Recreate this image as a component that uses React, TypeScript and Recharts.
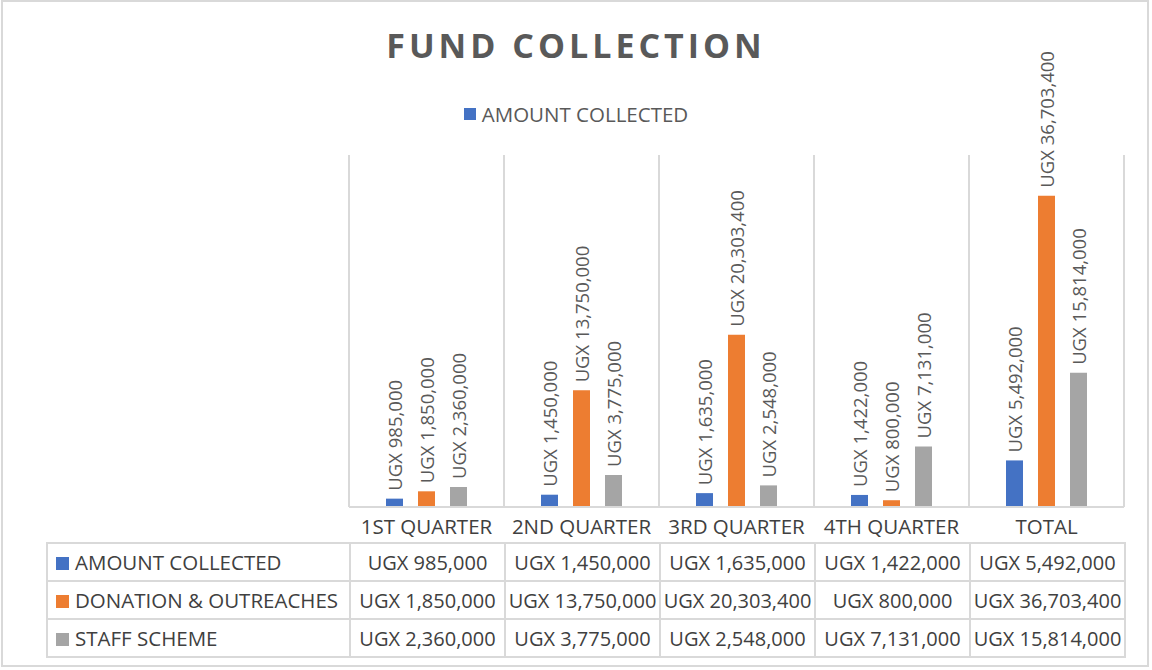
import React from "react";
import { BarChart, Bar, XAxis, YAxis, CartesianGrid, LabelList } from "recharts";

const categories = ["1ST QUARTER", "2ND QUARTER", "3RD QUARTER", "4TH QUARTER", "TOTAL"];
const amountCollected = [985000, 1450000, 1635000, 1422000, 5492000];
const donationOutreaches = [1850000, 13750000, 20303400, 800000, 36703400];
const staffScheme = [2360000, 3775000, 2548000, 7131000, 15814000];

const seriesInfo = [
  { key: "amount", name: "AMOUNT COLLECTED", color: "#4472C4", values: amountCollected },
  { key: "donation", name: "DONATION & OUTREACHES", color: "#ED7D31", values: donationOutreaches },
  { key: "staff", name: "STAFF SCHEME", color: "#A5A5A5", values: staffScheme },
];

const data = categories.map((c, i) => ({
  category: c,
  amount: amountCollected[i],
  donation: donationOutreaches[i],
  staff: staffScheme[i],
}));

const W = 1152;
const H = 670;
const PLOT_LEFT = 349;
const PLOT_RIGHT = 1124;
const PLOT_TOP = 155;
const BASE = 507;
const HEAD_H = 36;
const ROW_H = 38;
const TABLE_LEFT = 46;
const GRID = "#d9d9d9";
const FONT = "'Open Sans', sans-serif";

const fmt = (v: number) => "UGX " + v.toLocaleString("en-US");

const BarLabel = (props: any) => {
  const { x, y, width, value } = props;
  const cx = x + width / 2;
  const ty = y - 8;
  return (
    <text
      x={cx}
      y={ty}
      transform={`rotate(-90, ${cx}, ${ty})`}
      textAnchor="start"
      dominantBaseline="central"
      fill="#595959"
      fontSize={18.5}
      fontFamily={FONT}
    >
      {fmt(value)}
    </text>
  );
};

const CategoryTick = (props: any) => {
  const { x, payload } = props;
  return (
    <text
      x={x}
      y={BASE + HEAD_H / 2 + 1}
      textAnchor="middle"
      dominantBaseline="central"
      fill="#404040"
      fontSize={20.5}
      fontFamily={FONT}
    >
      {payload.value}
    </text>
  );
};

export default function App() {
  const colW = (PLOT_RIGHT - PLOT_LEFT) / categories.length;
  const cellBorder = `2px solid ${GRID}`;
  return (
    <div style={{ position: "relative", width: W, height: H, background: "#fff", overflow: "hidden" }}>
      <style>{"body{margin:0}"}</style>
      <div
        style={{
          position: "absolute",
          left: 1,
          top: 0,
          width: W - 4,
          height: H - 3,
          border: cellBorder,
          boxSizing: "border-box",
        }}
      />
      <div
        style={{
          position: "absolute",
          top: 22,
          width: W,
          textAlign: "center",
          fontFamily: FONT,
          fontWeight: 700,
          fontSize: 34,
          letterSpacing: 4,
          color: "#595959",
        }}
      >
        FUND COLLECTION
      </div>
      {/* Excel shows only the first series in the legend */}
      <div
        style={{
          position: "absolute",
          top: 100,
          width: W,
          display: "flex",
          justifyContent: "center",
          alignItems: "center",
          fontFamily: FONT,
          fontSize: 20.5,
          color: "#595959",
        }}
      >
        <span style={{ width: 12, height: 12, background: seriesInfo[0].color, marginRight: 6, display: "inline-block" }} />
        {seriesInfo[0].name}
      </div>
      <BarChart
        width={W}
        height={H}
        data={data}
        margin={{ top: PLOT_TOP, right: W - PLOT_RIGHT, bottom: H - BASE - HEAD_H, left: PLOT_LEFT }}
        barSize={17}
        barGap={15}
        style={{ position: "absolute", left: 0, top: 0 }}
      >
        <CartesianGrid
          horizontal={false}
          stroke={GRID}
          strokeWidth={2}
          verticalCoordinatesGenerator={({ offset }: any) =>
            categories.map((_, i) => offset.left + (i * offset.width) / categories.length).concat(offset.left + offset.width)
          }
        />
        <XAxis
          dataKey="category"
          height={HEAD_H}
          axisLine={{ stroke: GRID, strokeWidth: 2 }}
          tickLine={false}
          tick={<CategoryTick />}
          interval={0}
        />
        <YAxis hide domain={[0, 41500000]} />
        {seriesInfo.map((s) => (
          <Bar key={s.key} dataKey={s.key} name={s.name} fill={s.color} isAnimationActive={false}>
            <LabelList dataKey={s.key} content={<BarLabel />} />
          </Bar>
        ))}
      </BarChart>
      <table
        style={{
          position: "absolute",
          left: TABLE_LEFT,
          top: BASE + HEAD_H - 1,
          borderCollapse: "collapse",
          fontFamily: FONT,
          fontSize: 20,
          color: "#404040",
        }}
      >
        <tbody>
          {seriesInfo.map((s) => (
            <tr key={s.key} style={{ height: ROW_H }}>
              <td
                style={{
                  width: PLOT_LEFT - TABLE_LEFT,
                  border: cellBorder,
                  padding: "0 0 0 8px",
                  boxSizing: "border-box",
                  whiteSpace: "nowrap",
                  fontSize: 20.5,
                }}
              >
                <span
                  style={{
                    display: "inline-block",
                    width: 13,
                    height: 13,
                    background: s.color,
                    marginRight: 6,
                  }}
                />
                {s.name}
              </td>
              {s.values.map((v, i) => (
                <td
                  key={i}
                  style={{
                    width: colW,
                    border: cellBorder,
                    textAlign: "center",
                    padding: 0,
                    boxSizing: "border-box",
                    whiteSpace: "nowrap",
                  }}
                >
                  {fmt(v)}
                </td>
              ))}
            </tr>
          ))}
        </tbody>
      </table>
    </div>
  );
}
